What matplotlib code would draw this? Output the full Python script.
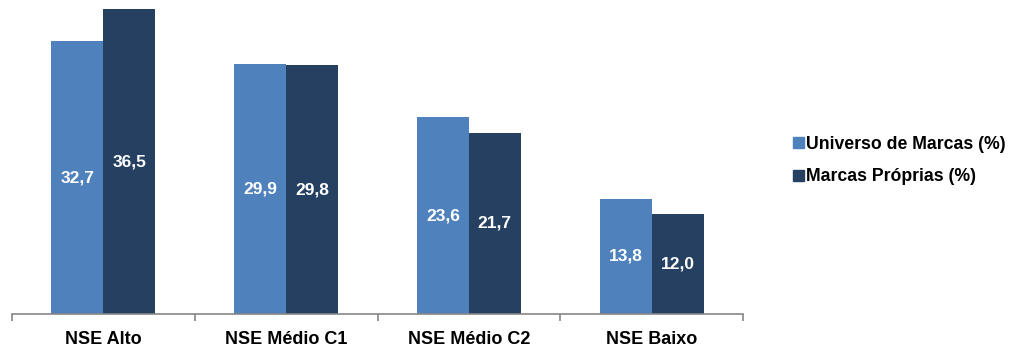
import matplotlib
matplotlib.use("Agg")
import matplotlib.pyplot as plt
import numpy as np
from matplotlib.patches import Patch

categories = ["NSE Alto", "NSE Médio C1", "NSE Médio C2", "NSE Baixo"]
universo = [32.7, 29.9, 23.6, 13.8]
proprias = [36.5, 29.8, 21.7, 12.0]
series_names = ["Universo de Marcas (%)", "Marcas Próprias (%)"]
colors = ["#4F81BD", "#254061"]

plt.rcParams['font.family'] = ['Liberation Sans', 'DejaVu Sans']

fig = plt.figure(figsize=(10.21, 3.5), dpi=100)
ax = fig.add_axes([12/1021, 36/350, (743-12)/1021, (314-1)/350])

x = np.arange(len(categories))
w = 0.284
b1 = ax.bar(x - w/2, universo, w, color=colors[0], label=series_names[0])
b2 = ax.bar(x + w/2, proprias, w, color=colors[1], label=series_names[1])

for bars, vals in ((b1, universo), (b2, proprias)):
    for r, v in zip(bars, vals):
        ax.text(r.get_x() + r.get_width()/2, v/2, f"{v:.1f}".replace(".", ","),
                ha="center", va="center", color="white", fontsize=12.5, fontweight="bold")

ax.set_xlim(-0.5, len(categories) - 0.5)
ax.set_ylim(0, 37.5)
for s in ["top", "right", "left"]:
    ax.spines[s].set_visible(False)
ax.spines["bottom"].set_color("#868686")
ax.spines["bottom"].set_linewidth(1.2)
ax.set_yticks([])
ax.set_xticks(np.arange(len(categories) + 1) - 0.5)
ax.set_xticklabels([])
ax.set_xticks(x, minor=True)
ax.set_xticklabels(categories, minor=True, fontsize=13, fontweight="bold")
ax.tick_params(axis="x", which="major", length=5, color="#868686", width=1.2)
ax.tick_params(axis="x", which="minor", length=0, pad=12)

handles = [Patch(color=c) for c in colors]
fig.legend(handles, series_names, loc="center left", bbox_to_anchor=(784/1021, 1 - 160.5/350),
           frameon=False, prop={"size": 12.7, "weight": "bold"}, handlelength=0.62,
           handleheight=0.62, handletextpad=0.15, labelspacing=0.9, borderpad=0)

fig.savefig("out.png", dpi=100)
